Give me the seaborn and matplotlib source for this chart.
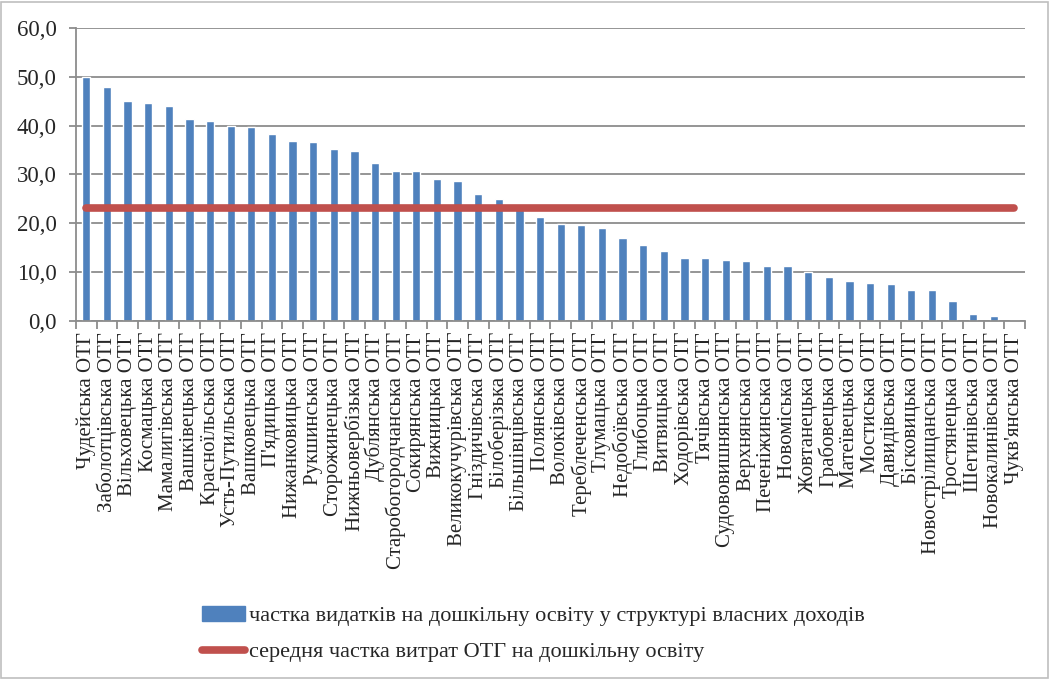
import matplotlib.pyplot as plt
import seaborn as sns
import numpy as np
from matplotlib.ticker import FuncFormatter, FixedLocator
from matplotlib.patches import Rectangle
from matplotlib.lines import Line2D

# --- дані ---
hromady = [
    "Чудейська ОТГ", "Заболотцівська ОТГ", "Вільховецька ОТГ", "Космацька ОТГ",
    "Мамалигівська ОТГ", "Вашківецька ОТГ", "Красноїльська ОТГ", "Усть-Путильська ОТГ",
    "Вашковецька ОТГ", "П'ядицька ОТГ", "Нижанковицька ОТГ", "Рукшинська ОТГ",
    "Сторожинецька ОТГ", "Нижньовербізька ОТГ", "Дублянська ОТГ", "Старобогородчанська ОТГ",
    "Сокирянська ОТГ", "Вижницька ОТГ", "Великокучурівська ОТГ", "Гніздичівська ОТГ",
    "Білоберізька ОТГ", "Більшівцівська ОТГ", "Полянська ОТГ", "Волоківська ОТГ",
    "Тереблеченська ОТГ", "Тлумацька ОТГ", "Недобоївська ОТГ", "Глибоцька ОТГ",
    "Витвицька ОТГ", "Ходорівська ОТГ", "Тячівська ОТГ", "Судововишнянська ОТГ",
    "Верхнянська ОТГ", "Печеніжинська ОТГ", "Новоміська ОТГ", "Жовтанецька ОТГ",
    "Грабовецька ОТГ", "Матеївецька ОТГ", "Мостиська ОТГ", "Давидівська ОТГ",
    "Бісковицька ОТГ", "Новострілищанська ОТГ", "Тростянецька ОТГ", "Шегинівська ОТГ",
    "Новокалинівська ОТГ", "Чукв'янська ОТГ",
]
chastka = [
    50.0, 48.0, 45.0, 44.7, 44.0, 41.3, 41.0, 40.0,
    39.6, 38.3, 36.9, 36.6, 35.2, 34.8, 32.4, 30.7,
    30.7, 29.0, 28.7, 26.0, 25.0, 23.1, 21.3, 19.9,
    19.6, 19.0, 16.9, 15.6, 14.2, 12.9, 12.9, 12.5,
    12.2, 11.2, 11.2, 9.9, 8.9, 8.2, 7.8, 7.5,
    6.2, 6.2, 4.1, 1.4, 1.0, 0.1,
]
serednia = [23.0] * len(hromady)

label_bar = "частка видатків на дошкільну освіту у структурі власних доходів"
label_line = "середня частка витрат ОТГ на дошкільну освіту"

blue = "#4F81BD"
red = "#C0504D"
grid_col = "#8C8C8C"

sns.set_style("white")
plt.rcParams['font.family'] = ['Liberation Serif', 'DejaVu Serif']

fig = plt.figure(figsize=(10.5, 6.79), dpi=100)
ax = fig.add_axes([0.0724, 0.5277, 0.9036, 0.4311])

sns.barplot(x=hromady, y=chastka, color=blue, width=0.4, saturation=1,
            ax=ax, zorder=2)
ax.plot(np.arange(len(hromady)), serednia, color=red, lw=5.5,
        solid_capstyle='round', zorder=3)

ax.set_ylim(0, 60)
ax.set_xlim(-0.5, len(hromady) - 0.5)
ax.set_yticks(np.arange(0, 61, 10))
ax.yaxis.set_major_formatter(FuncFormatter(lambda v, p: f"{v:.1f}".replace(".", ",")))
ax.yaxis.grid(True, color=grid_col, lw=1.3, zorder=0)
ax.set_axisbelow(True)

for s in ["top", "right"]:
    ax.spines[s].set_visible(False)
for s in ["left", "bottom"]:
    ax.spines[s].set_color(grid_col)
    ax.spines[s].set_linewidth(1.3)

ax.tick_params(axis='y', labelsize=16.5, length=5, color=grid_col, width=1.3,
               left=True, pad=9)
ax.tick_params(axis='x', which='major', length=0, labelsize=15, pad=8)
ax.xaxis.set_minor_locator(FixedLocator(np.arange(-0.5, len(hromady), 1)))
ax.tick_params(axis='x', which='minor', length=6, color=grid_col, width=1.3,
               bottom=True)
for t in ax.get_xticklabels():
    t.set_rotation(90)
    t.set_ha('center')
    t.set_va('top')

handles = [Rectangle((0, 0), 1, 1, color=blue),
           Line2D([0], [0], color=red, lw=5.5, solid_capstyle='round')]
fig.legend(handles, [label_bar, label_line], loc='upper left',
           bbox_to_anchor=(0.184, 0.121), frameon=False, fontsize=16,
           handlelength=1.95, handletextpad=0.15, labelspacing=0.7,
           borderaxespad=0)

fig.patches.append(Rectangle((0.001, 0.002), 0.997, 0.995, transform=fig.transFigure,
                             fill=False, edgecolor="#BFBFBF", lw=1.2))

fig.savefig("out.png", dpi=100)
